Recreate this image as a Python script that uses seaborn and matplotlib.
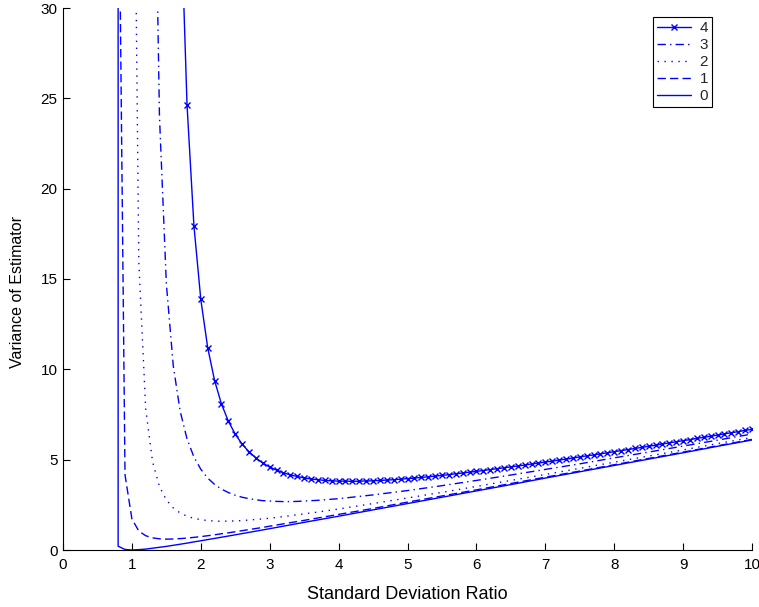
import matplotlib
matplotlib.use("Agg")
import matplotlib.pyplot as plt
import seaborn as sns

# ---- data ----
labels = ["4", "3", "2", "1", "0"]

x4 = [1.7, 1.8, 1.9, 2.0, 2.1, 2.2, 2.3, 2.4, 2.5, 2.6, 2.7, 2.8, 2.9, 3.0,
      3.1, 3.2, 3.3, 3.4, 3.5, 3.6, 3.7, 3.8, 3.9, 4.0,
      4.1, 4.2, 4.3, 4.4, 4.5, 4.6, 4.7, 4.8, 4.9, 5.0,
      5.1, 5.2, 5.3, 5.4, 5.5, 5.6, 5.7, 5.8, 5.9, 6.0,
      6.1, 6.2, 6.3, 6.4, 6.5, 6.6, 6.7, 6.8, 6.9, 7.0,
      7.1, 7.2, 7.3, 7.4, 7.5, 7.6, 7.7, 7.8, 7.9, 8.0,
      8.1, 8.2, 8.3, 8.4, 8.5, 8.6, 8.7, 8.8, 8.9, 9.0,
      9.1, 9.2, 9.3, 9.4, 9.5, 9.6, 9.7, 9.8, 9.9, 10.0]
y4 = [36.58, 24.65, 17.96, 13.87, 11.20, 9.38, 8.08, 7.13, 6.41, 5.86, 5.43, 5.09, 4.81, 4.59,
      4.42, 4.27, 4.16, 4.07, 3.99, 3.93, 3.89, 3.85, 3.83, 3.81,
      3.81, 3.80, 3.81, 3.82, 3.83, 3.85, 3.87, 3.89, 3.92, 3.95,
      3.98, 4.02, 4.05, 4.09, 4.13, 4.17, 4.22, 4.26, 4.31, 4.35,
      4.40, 4.45, 4.50, 4.55, 4.60, 4.65, 4.70, 4.76, 4.81, 4.87,
      4.92, 4.98, 5.03, 5.09, 5.15, 5.21, 5.26, 5.32, 5.38, 5.44,
      5.50, 5.56, 5.62, 5.68, 5.74, 5.80, 5.87, 5.93, 5.99, 6.05,
      6.11, 6.18, 6.24, 6.30, 6.36, 6.43, 6.49, 6.55, 6.62, 6.68]

x3 = [1.3, 1.4, 1.5, 1.6, 1.7, 1.8, 1.9, 2.0, 2.1, 2.2, 2.3, 2.4, 2.5, 2.6, 2.7, 2.8, 2.9, 3.0,
      3.1, 3.2, 3.3, 3.4, 3.5, 3.6, 3.7, 3.8, 3.9, 4.0,
      4.5, 5.0, 5.5, 6.0, 6.5, 7.0, 7.5, 8.0, 8.5, 9.0, 9.5, 10.0]
y3 = [47.07, 24.01, 14.74, 10.21, 7.69, 6.15, 5.15, 4.47, 3.98, 3.63, 3.37, 3.18, 3.03, 2.92, 2.84, 2.78, 2.73, 2.71,
      2.69, 2.68, 2.68, 2.69, 2.71, 2.73, 2.75, 2.78, 2.81, 2.84,
      3.05, 3.29, 3.56, 3.85, 4.15, 4.46, 4.77, 5.10, 5.42, 5.75, 6.08, 6.42]

x2 = [1.0, 1.1, 1.2, 1.3, 1.4, 1.5, 1.6, 1.7, 1.8, 1.9, 2.0, 2.1, 2.2, 2.3, 2.4, 2.5, 2.6, 2.7, 2.8, 2.9, 3.0,
      3.1, 3.2, 3.3, 3.4, 3.5, 3.6, 3.7, 3.8, 3.9, 4.0,
      4.5, 5.0, 5.5, 6.0, 6.5, 7.0, 7.5, 8.0, 8.5, 9.0, 9.5, 10.0]
y2 = [53.60, 15.98, 7.82, 4.88, 3.51, 2.77, 2.33, 2.05, 1.87, 1.75, 1.68, 1.63, 1.60, 1.59, 1.60, 1.61, 1.63, 1.66, 1.69, 1.72, 1.76,
      1.80, 1.85, 1.90, 1.95, 2.00, 2.05, 2.10, 2.16, 2.21, 2.27,
      2.57, 2.88, 3.19, 3.52, 3.85, 4.18, 4.52, 4.86, 5.20, 5.54, 5.89, 6.23]

x1 = [0.8, 0.9, 1.0, 1.1, 1.2, 1.3, 1.4, 1.5, 1.6, 1.7, 1.8, 1.9, 2.0,
      2.1, 2.2, 2.3, 2.4, 2.5, 2.6, 2.7, 2.8, 2.9, 3.0,
      3.5, 4.0, 4.5, 5.0, 5.5, 6.0, 6.5, 7.0, 7.5, 8.0, 8.5, 9.0, 9.5, 10.0]
y1 = [42.02, 4.16, 1.72, 1.05, 0.79, 0.67, 0.62, 0.60, 0.61, 0.63, 0.66, 0.70, 0.74,
      0.79, 0.84, 0.90, 0.95, 1.01, 1.07, 1.13, 1.19, 1.25, 1.32,
      1.64, 1.97, 2.30, 2.65, 2.99, 3.33, 3.68, 4.03, 4.37, 4.72, 5.07, 5.42, 5.77, 6.12]

x0 = [0.8, 0.8, 0.9, 1.0, 1.1, 1.2, 1.3, 1.4, 1.5, 1.6, 1.7, 1.8, 1.9, 2.0,
      2.5, 3.0, 3.5, 4.0, 4.5, 5.0, 5.5, 6.0, 6.5, 7.0, 7.5, 8.0, 8.5, 9.0, 9.5, 10.0]
y0 = [100.0, 0.21, 0.03, 0.00, 0.02, 0.05, 0.10, 0.15, 0.20, 0.26, 0.32, 0.38, 0.45, 0.51,
      0.84, 1.18, 1.53, 1.87, 2.22, 2.57, 2.92, 3.27, 3.62, 3.98, 4.33, 4.68, 5.03, 5.38, 5.74, 6.09]

xticks = [0, 1, 2, 3, 4, 5, 6, 7, 8, 9, 10]
yticks = [0, 5, 10, 15, 20, 25, 30]

# ---- styling ----
sns.set_theme(style="ticks")
plt.rcParams["font.family"] = ["Liberation Sans", "DejaVu Sans"]

fig = plt.figure(figsize=(7.59, 6.07), dpi=100)
ax = fig.add_axes([63 / 759, 57 / 607, 689 / 759, 542 / 607])

blue = "#0000ff"
series = [
    (x4, y4, dict(linestyle="-", marker="x", markersize=5, markeredgewidth=1.0,
                  markeredgecolor=blue, markerfacecolor=blue)),
    (x3, y3, dict(linestyle=(0, (6, 3, 1, 3)))),
    (x2, y2, dict(linestyle=(0, (1, 4)))),
    (x1, y1, dict(linestyle=(0, (6, 3)))),
    (x0, y0, dict(linestyle="-")),
]
for (xs, ys, kw), lab in zip(series, labels):
    sns.lineplot(x=xs, y=ys, estimator=None, sort=False, color=blue,
                 linewidth=1.0, label=lab, ax=ax, **kw)

ax.set_xlim(0, 10)
ax.set_ylim(0, 30)
ax.set_xticks(xticks)
ax.set_yticks(yticks)
ax.tick_params(direction="in", length=5, width=0.8, labelsize=11, colors="black")
ax.tick_params(axis="x", pad=6)
ax.tick_params(axis="y", pad=4)
sns.despine(ax=ax, top=True, right=True)
for s in ("left", "bottom"):
    ax.spines[s].set_color("black")
    ax.spines[s].set_linewidth(0.8)

ax.set_xlabel("Standard Deviation Ratio", fontsize=13, labelpad=10, color="black")
ax.set_ylabel("Variance of Estimator", fontsize=11.5, color="black")
ylab = ax.yaxis.label
ylab.set_ha("left")
ylab.set_va("center")
ylab.set_rotation_mode("anchor")
ax.yaxis.set_label_coords(-0.066, 0.336)

leg = ax.legend(loc="upper right", bbox_to_anchor=(0.942, 0.983), borderaxespad=0,
                fontsize=11, handlelength=2.2, handletextpad=0.6,
                labelspacing=0.2, borderpad=0.25, fancybox=False,
                framealpha=1, edgecolor="black")
leg.get_frame().set_linewidth(0.8)

fig.savefig("out.png", dpi=100)
